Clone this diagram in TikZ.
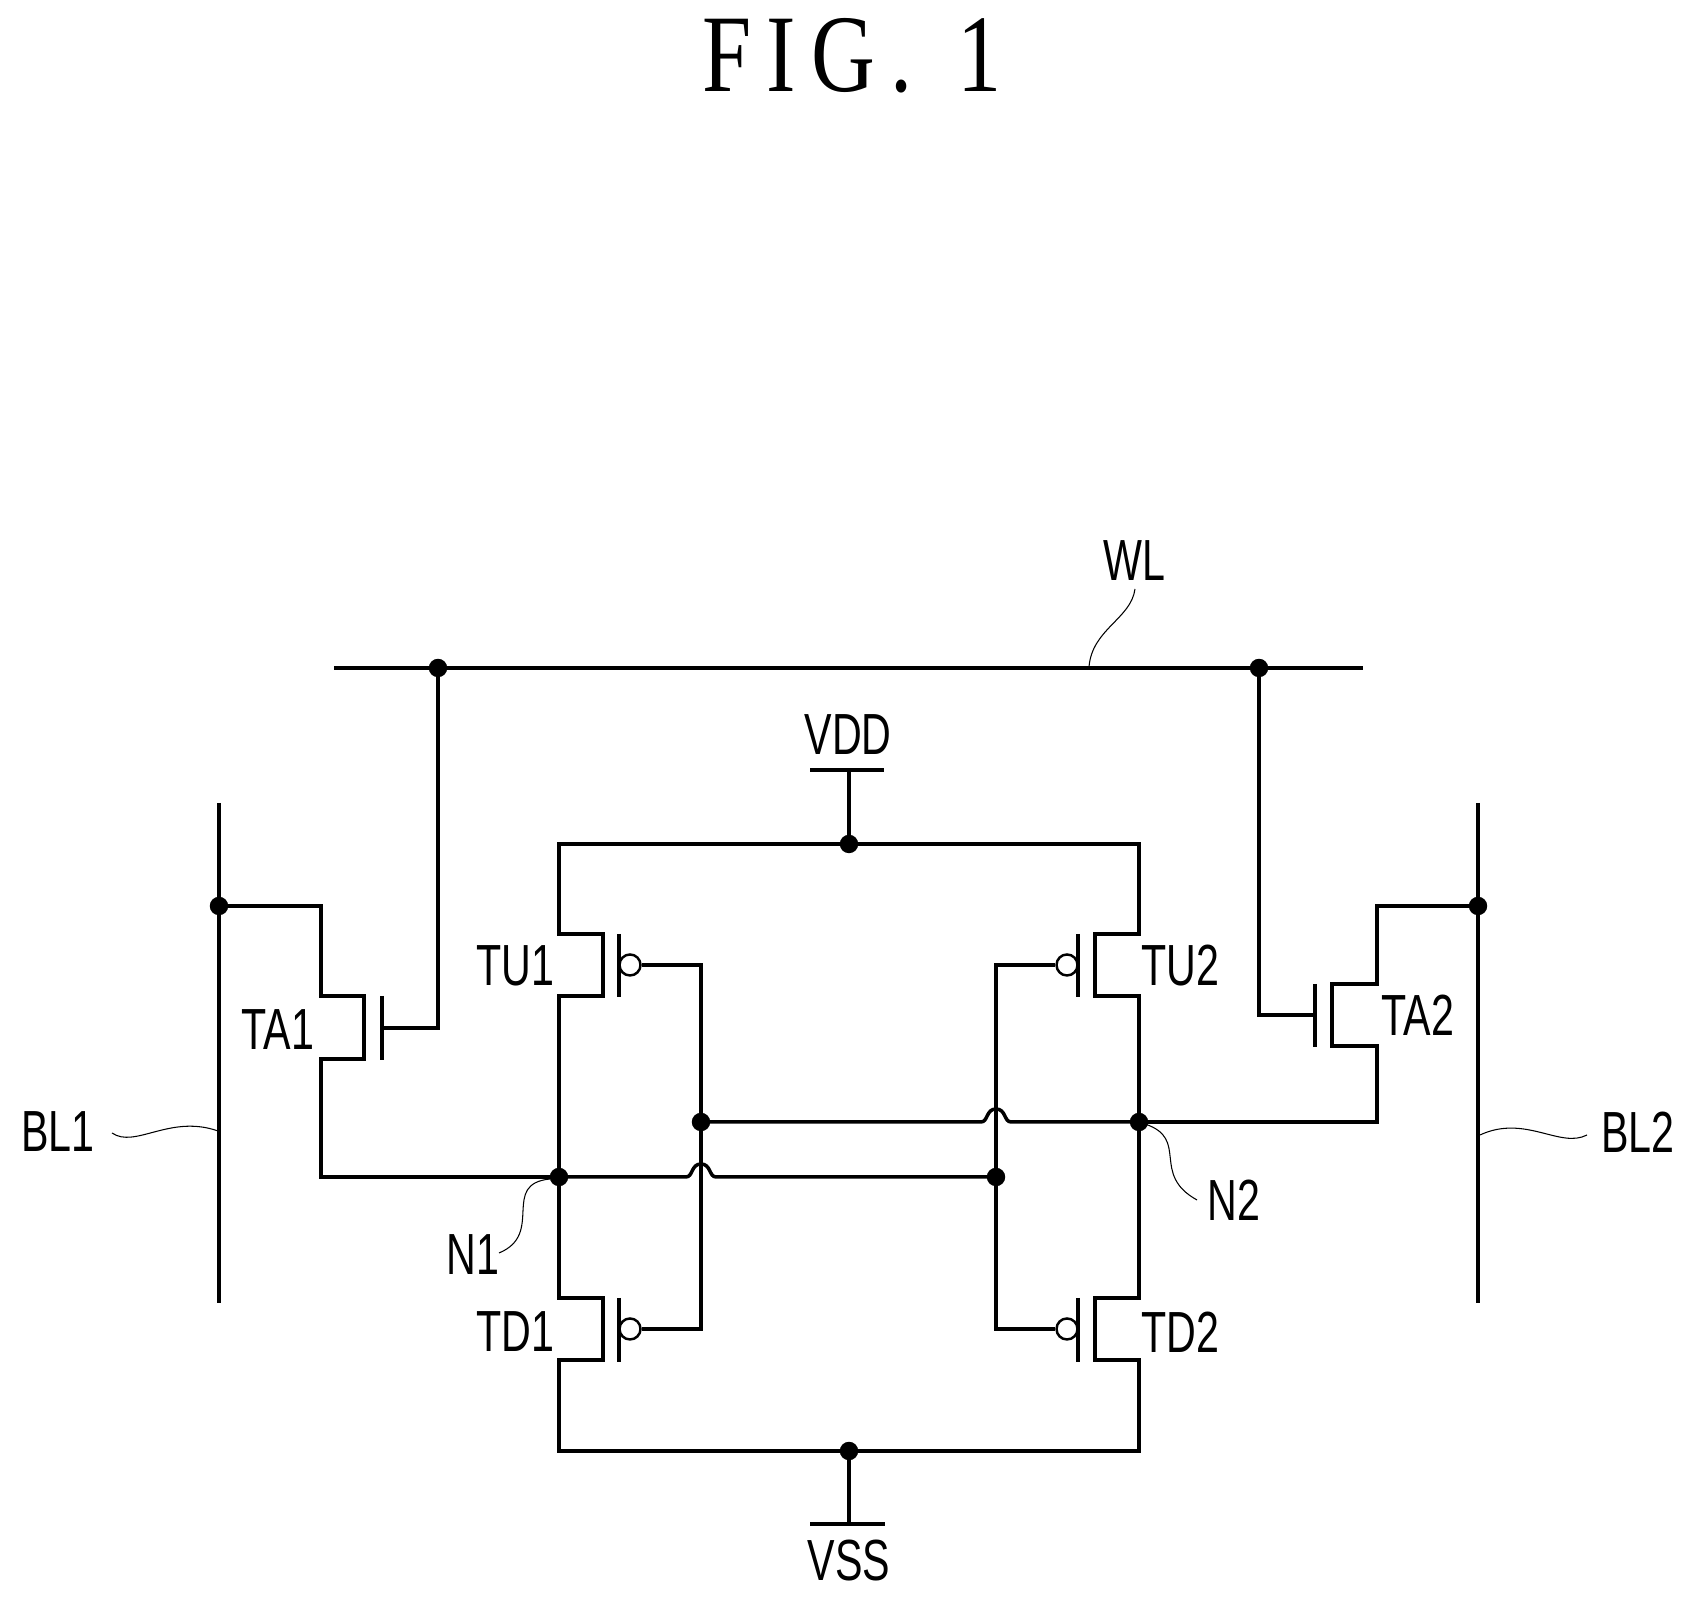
\documentclass[tikz,border=0pt]{standalone}
\usepackage{fontspec}
\setmainfont{Liberation Sans}[FakeStretch=0.71]
\newfontfamily\figfont{Liberation Serif}[FakeStretch=0.8, LetterSpace=14]
\tikzstyle{vtx}=[inner sep=0pt, draw, fill=black, shape=circle, minimum size=.17cm]
\tikzstyle{bub}=[inner sep=0pt, draw, line width=.7pt, fill=white, shape=circle, minimum size=.21cm]
\tikzstyle{wire}=[line width=1pt]
\tikzstyle{lead}=[line width=.3pt]
\tikzstyle{lbl}=[inner sep=0pt, font=\fontsize{16.5}{18}\selectfont]

\begin{document}
\begin{tikzpicture}[x = .01cm, y = .01cm]
\useasboundingbox (0,0) rectangle (1700,1604);
\node[inner sep=0pt, font=\figfont\fontsize{31.4}{34}\selectfont] (title) at (852,1548) {FIG.\hspace{2pt} 1};

% word line and bit lines
\coordinate (WLa) at (334,936);
\coordinate (WLb) at (1363,936);
\node[vtx] (W1) at (438,936) {};
\node[vtx] (W2) at (1259,936) {};
\draw[wire] (WLa) -- (WLb);
\coordinate (B1a) at (219,801);
\coordinate (B1b) at (219,301);
\coordinate (B2a) at (1478,801);
\coordinate (B2b) at (1478,301);
\node[vtx] (S1) at (219,698) {};
\node[vtx] (S2) at (1478,698) {};
\draw[wire] (B1a) -- (B1b);
\draw[wire] (B2a) -- (B2b);

% supply
\coordinate (VDDl) at (810,834);
\coordinate (VDDr) at (884,834);
\coordinate (VDDm) at (849,834);
\coordinate (VSSl) at (810,80);
\coordinate (VSSr) at (885,80);
\coordinate (VSSm) at (849,80);
\node[vtx] (Vt) at (849,760) {};
\node[vtx] (Vb) at (849,153) {};
\draw[wire] (VDDl) -- (VDDr);
\draw[wire] (VSSl) -- (VSSr);
\draw[wire] (VDDm) -- (Vt);
\draw[wire] (VSSm) -- (Vb);

% storage nodes
\node[vtx] (N1) at (559,427) {};
\node[vtx] (N2) at (1139,482) {};
\node[vtx] (G1) at (701,482) {};
\node[vtx] (G2) at (996,427) {};

% TA1
\coordinate (TA1a) at (321,698);
\coordinate (TA1b) at (321,608);
\coordinate (TA1c) at (364,608);
\coordinate (TA1d) at (364,545);
\coordinate (TA1e) at (321,545);
\coordinate (TA1f) at (321,427);
\coordinate (TA1g) at (382,608);
\coordinate (TA1h) at (382,544);
\coordinate (TA1i) at (382,576);
\coordinate (TA1j) at (438,576);
\draw[wire] (S1) -- (TA1a) -- (TA1b) -- (TA1c) -- (TA1d) -- (TA1e) -- (TA1f) -- (N1);
\draw[wire] (TA1g) -- (TA1h);
\draw[wire] (TA1i) -- (TA1j) -- (W1);

% TA2
\coordinate (TA2a) at (1377,698);
\coordinate (TA2b) at (1377,620);
\coordinate (TA2c) at (1332,620);
\coordinate (TA2d) at (1332,558);
\coordinate (TA2e) at (1377,558);
\coordinate (TA2f) at (1377,482);
\coordinate (TA2g) at (1315,620);
\coordinate (TA2h) at (1315,557);
\coordinate (TA2i) at (1315,589);
\coordinate (TA2j) at (1259,589);
\draw[wire] (S2) -- (TA2a) -- (TA2b) -- (TA2c) -- (TA2d) -- (TA2e) -- (TA2f) -- (N2);
\draw[wire] (TA2g) -- (TA2h);
\draw[wire] (TA2i) -- (TA2j) -- (W2);

% TU1 and TD1
\coordinate (TL) at (559,760);
\coordinate (TU1a) at (559,670);
\coordinate (TU1b) at (603,670);
\coordinate (TU1c) at (603,608);
\coordinate (TU1d) at (559,608);
\coordinate (TU1e) at (619,670);
\coordinate (TU1f) at (619,607);
\coordinate (TU1g) at (701,639);
\node[bub] (BU1) at (630,639) {};
\draw[wire] (Vt) -- (TL) -- (TU1a) -- (TU1b) -- (TU1c) -- (TU1d) -- (N1);
\draw[wire] (TU1e) -- (TU1f);
\draw[wire] (BU1) -- (TU1g) -- (G1);

\coordinate (BL) at (559,153);
\coordinate (TD1a) at (559,306);
\coordinate (TD1b) at (603,306);
\coordinate (TD1c) at (603,244);
\coordinate (TD1d) at (559,244);
\coordinate (TD1e) at (619,306);
\coordinate (TD1f) at (619,242);
\coordinate (TD1g) at (701,275);
\node[bub] (BD1) at (630,275) {};
\draw[wire] (N1) -- (TD1a) -- (TD1b) -- (TD1c) -- (TD1d) -- (BL) -- (Vb);
\draw[wire] (TD1e) -- (TD1f);
\draw[wire] (BD1) -- (TD1g) -- (G1);

% TU2 and TD2
\coordinate (TR) at (1139,760);
\coordinate (TU2a) at (1139,670);
\coordinate (TU2b) at (1095,670);
\coordinate (TU2c) at (1095,608);
\coordinate (TU2d) at (1139,608);
\coordinate (TU2e) at (1078,670);
\coordinate (TU2f) at (1078,607);
\coordinate (TU2g) at (996,639);
\node[bub] (BU2) at (1067,639) {};
\draw[wire] (Vt) -- (TR) -- (TU2a) -- (TU2b) -- (TU2c) -- (TU2d) -- (N2);
\draw[wire] (TU2e) -- (TU2f);
\draw[wire] (BU2) -- (TU2g) -- (G2);

\coordinate (BR) at (1139,153);
\coordinate (TD2a) at (1139,306);
\coordinate (TD2b) at (1095,306);
\coordinate (TD2c) at (1095,244);
\coordinate (TD2d) at (1139,244);
\coordinate (TD2e) at (1078,306);
\coordinate (TD2f) at (1078,242);
\coordinate (TD2g) at (996,275);
\node[bub] (BD2) at (1067,275) {};
\draw[wire] (N2) -- (TD2a) -- (TD2b) -- (TD2c) -- (TD2d) -- (BR) -- (Vb);
\draw[wire] (TD2e) -- (TD2f);
\draw[wire] (BD2) -- (TD2g) -- (G2);

% cross coupling with the two hops
\coordinate (H1a) at (686,427);
\coordinate (H1t) at (701,440);
\coordinate (H1b) at (716,427);
\coordinate (H2a) at (981,482);
\coordinate (H2t) at (996,495);
\coordinate (H2b) at (1011,482);
\draw[wire] (N1) -- (H1a) .. controls (693,427) and (691,440) .. (H1t) .. controls (711,440) and (709,427) .. (H1b) -- (G2);
\draw[wire] (G1) -- (H2a) .. controls (988,482) and (986,495) .. (H2t) .. controls (1006,495) and (1004,482) .. (H2b) -- (N2);

% labels
\node[lbl] (lWL) at (1134,1043) {WL};
\node[lbl] (lVDD) at (848,869) {VDD};
\node[lbl] (lVSS) at (849,43) {VSS};
\node[lbl] (lBL1) at (58,472) {BL1};
\node[lbl] (lBL2) at (1638,472) {BL2};
\node[lbl] (lTA1) at (278,574) {TA1};
\node[lbl] (lTA2) at (1418,589) {TA2};
\node[lbl] (lTU1) at (515,638) {TU1};
\node[lbl] (lTU2) at (1180,638) {TU2};
\node[lbl] (lTD1) at (515,272) {TD1};
\node[lbl] (lTD2) at (1180,272) {TD2};
\node[lbl] (lN1) at (473,349) {N1};
\node[lbl] (lN2) at (1234,404) {N2};

% leader lines
\coordinate (WLp) at (1135,1015);
\coordinate (WLq) at (1089,937);
\coordinate (BL1p) at (112,471);
\coordinate (BL1q) at (218,473);
\coordinate (BL2p) at (1587,469);
\coordinate (BL2q) at (1480,469);
\coordinate (N1p) at (499,351);
\coordinate (N1q) at (550,425);
\coordinate (N2p) at (1197,404);
\coordinate (N2q) at (1145,480);
\draw[lead] (WLp) .. controls (1131,985) and (1092,975) .. (WLq);
\draw[lead] (BL1p) .. controls (135,455) and (170,490) .. (BL1q);
\draw[lead] (BL2p) .. controls (1560,455) and (1525,490) .. (BL2q);
\draw[lead] (N1p) .. controls (545,370) and (500,420) .. (N1q);
\draw[lead] (N2p) .. controls (1150,430) and (1190,465) .. (N2q);
\end{tikzpicture}
\end{document}
